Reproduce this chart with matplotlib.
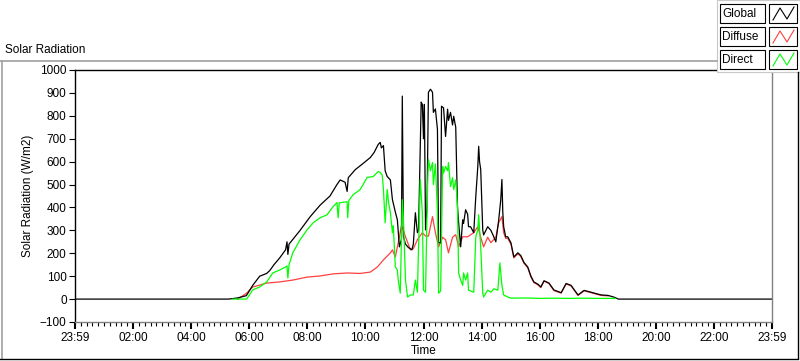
import numpy as np
import matplotlib.pyplot as plt
from matplotlib.lines import Line2D
from matplotlib.patches import Rectangle

plt.rcParams['font.family'] = ['Liberation Sans', 'DejaVu Sans']
plt.rcParams['font.size'] = 8

# time in hours since 23:59, radiation in W/m2
global_t = [0, 5.29, 5.6, 5.9, 6.12, 6.36, 6.6, 6.71, 6.85, 7.05, 7.25, 7.30, 7.33, 7.37,
            7.75, 8.1, 8.44, 8.78, 9.02, 9.13, 9.30, 9.37, 9.41, 9.65, 9.9, 10.17,
            10.3, 10.44, 10.51, 10.55, 10.62, 10.68, 10.75, 10.86, 10.93, 11.03,
            11.10, 11.17, 11.24, 11.27, 11.31, 11.38, 11.48, 11.60, 11.65, 11.72,
            11.79, 11.83, 11.92, 11.96, 12.00, 12.03, 12.07, 12.12, 12.17, 12.24,
            12.31, 12.34, 12.41, 12.48, 12.52, 12.59, 12.62, 12.69, 12.76, 12.83,
            12.86, 12.93, 13.00, 13.04, 13.11, 13.17, 13.21, 13.28, 13.35, 13.38,
            13.45, 13.52, 13.55, 13.62, 13.73, 13.80, 13.87, 13.90, 13.93, 13.97,
            14.04, 14.07, 14.21, 14.32, 14.42, 14.49, 14.59, 14.66, 14.70, 14.73,
            14.76, 14.83, 14.90, 15.01, 15.11, 15.25, 15.35, 15.46, 15.59, 15.70,
            15.80, 15.94, 16.04, 16.15, 16.32, 16.49, 16.74, 16.91, 17.08, 17.32,
            17.53, 17.77, 17.88, 18.12, 18.36, 18.57, 18.71, 24]
global_v = [0, 0, 5, 15, 60, 100, 112, 125, 150, 180, 215, 250, 195, 240,
            300, 360, 410, 450, 500, 520, 510, 470, 530, 565, 590, 618,
            640, 675, 684, 660, 670, 560, 535, 520, 434, 380,
            346, 228, 260, 886, 272, 240, 225, 215, 240, 377,
            290, 300, 860, 850, 700, 850, 302, 400, 903, 916,
            903, 815, 830, 741, 246, 246, 842, 835, 710, 829,
            780, 815, 760, 798, 750, 404, 333, 228, 346, 330,
            390, 370, 316, 316, 290, 447, 579, 667, 600, 566,
            302, 280, 316, 300, 272, 250, 346, 434, 522, 380,
            316, 272, 272, 246, 184, 202, 190, 160, 140, 100,
            75, 65, 53, 80, 70, 40, 28, 68, 60, 18,
            38, 30, 26, 18, 16, 8, 0, 0]

diffuse_t = [5.60, 5.91, 6.12, 6.36, 6.60, 7.05, 7.50, 7.99, 8.44, 8.89, 9.37, 9.82,
             10.17, 10.41, 10.62, 10.86, 10.93, 11.03, 11.13, 11.24, 11.31, 11.38,
             11.55, 11.65, 11.79, 11.96, 12.07, 12.17, 12.31, 12.41, 12.52, 12.66,
             12.76, 12.86, 13.00, 13.11, 13.21, 13.35, 13.52, 13.73, 13.87, 13.97,
             14.07, 14.21, 14.32, 14.49, 14.59, 14.70, 14.76, 14.83, 14.90, 15.01,
             15.11, 15.25, 15.35, 15.46, 15.59, 15.70, 15.80, 15.94, 16.04, 16.15,
             16.32, 16.49, 16.74, 16.91, 17.08, 17.32, 17.53, 17.77, 17.88, 18.12,
             18.36]
diffuse_v = [0, 26, 53, 61, 70, 75, 83, 96, 101, 110, 114, 112,
             118, 140, 171, 202, 215, 184, 246, 320, 300, 272,
             215, 220, 259, 290, 275, 275, 360, 290, 228, 270,
             259, 202, 270, 281, 228, 272, 272, 290, 316, 270,
             228, 270, 246, 270, 333, 360, 290, 265, 265, 240,
             180, 198, 186, 156, 137, 96, 72, 62, 50, 78,
             68, 37, 26, 66, 58, 16, 36, 28, 24, 16,
             14]

direct_t = [5.43, 5.91, 6.12, 6.36, 6.60, 6.81, 7.05, 7.25, 7.30, 7.33, 7.37, 7.50,
            7.75, 7.99, 8.20, 8.44, 8.68, 8.89, 9.02, 9.06, 9.10, 9.37, 9.39, 9.43,
            9.58, 9.82, 10.06, 10.27, 10.44, 10.51, 10.58, 10.62, 10.68, 10.75,
            10.80, 10.86, 10.93, 10.96, 11.03, 11.10, 11.13, 11.20, 11.27, 11.31,
            11.38, 11.45, 11.55, 11.65, 11.72, 11.79, 11.89, 11.96, 12.00, 12.07,
            12.14, 12.17, 12.24, 12.31, 12.34, 12.41, 12.48, 12.52, 12.59, 12.66,
            12.69, 12.76, 12.83, 12.86, 12.93, 13.00, 13.04, 13.11, 13.17, 13.21,
            13.28, 13.35, 13.38, 13.45, 13.52, 13.55, 13.73, 13.80, 13.87, 13.90,
            13.97, 14.04, 14.07, 14.21, 14.32, 14.42, 14.56, 14.63, 14.70, 14.76,
            14.90, 15.01, 15.5, 16.0, 16.5, 17.0, 17.5, 18.0, 18.6]
direct_v = [0, 0, 40, 53, 75, 114, 127, 140, 145, 92, 150, 202,
            259, 302, 333, 355, 368, 404, 421, 355, 420, 425, 355, 430,
            456, 478, 531, 535, 557, 553, 540, 480, 333, 478,
            420, 377, 290, 320, 140, 127, 83, 26, 434, 346,
            83, 9, 18, 18, 83, 30, 522, 377, 39, 30,
            491, 610, 560, 596, 500, 590, 377, 26, 35, 579,
            550, 579, 560, 596, 491, 530, 478, 520, 404, 114,
            83, 60, 114, 83, 114, 39, 30, 272, 302, 368,
            228, 26, 9, 39, 30, 45, 39, 158, 60, 18,
            9, 4, 5, 3, 4, 3, 4, 3, 3]

major_ticks = np.arange(0, 25, 2)
major_labels = ['23:59', '02:00', '04:00', '06:00', '08:00', '10:00', '12:00',
                '14:00', '16:00', '18:00', '20:00', '22:00', '23:59']
y_ticks = np.arange(-100, 1001, 100)

fig = plt.figure(figsize=(8, 3.61), dpi=100)
W, H = 800, 361

def fx(px):
    return px / W

def fy(py):
    return 1 - py / H

ax = fig.add_axes([fx(75), fy(322), fx(772) - fx(75), fy(70) - fy(322)])
ax.plot(diffuse_t, diffuse_v, color='#ff4040', lw=0.9)
ax.plot(global_t, global_v, color='black', lw=0.9)
ax.plot(direct_t, direct_v, color='#00ff00', lw=0.9)

ax.set_xlim(0, 24)
ax.set_ylim(-100, 1000)
ax.set_xticks(major_ticks)
ax.set_xticklabels(major_labels)
ax.set_xticks(np.arange(0, 24.01, 0.2), minor=True)
ax.set_yticks(y_ticks)
ax.tick_params(axis='x', which='major', length=5, width=1.5, pad=2, labelsize=8.5)
ax.tick_params(axis='x', which='minor', length=3, width=0.8)
ax.tick_params(axis='y', length=4, width=0.8, pad=2, labelsize=8.5)
ax.spines['left'].set_color('black')
ax.spines['top'].set_color('black')
ax.spines['right'].set_color('#808080')
ax.spines['bottom'].set_color('#808080')
for s in ax.spines.values():
    s.set_linewidth(1.0)
ax.set_xlabel('Time', fontsize=8.5, labelpad=1)
ax.set_ylabel('Solar Radiation (W/m2)', fontsize=8.5, labelpad=4)

# outer frame
fig.text(fx(5), fy(50), 'Solar Radiation', fontsize=8.5, va='center', ha='left')
fig.add_artist(Line2D([fx(0), fx(717)], [fy(61), fy(61)], color='#a0a0a0', lw=1.2))
fig.add_artist(Line2D([fx(1.5), fx(1.5)], [fy(61), fy(358)], color='#a0a0a0', lw=1.2))
fig.add_artist(Line2D([fx(0), fx(798)], [fy(358.5), fy(358.5)], color='black', lw=1.0))
fig.add_artist(Line2D([fx(797.5), fx(797.5)], [fy(72), fy(358)], color='black', lw=1.0))

# legend panel
fig.add_artist(Rectangle((fx(717), fy(72)), fx(800) - fx(717), fy(0) - fy(72),
                         facecolor='white', edgecolor='#c8c8c8', lw=0.8))
names = ['Global', 'Diffuse', 'Direct']
colors = ['black', '#ff4040', '#00ff00']
for i, (name, c) in enumerate(zip(names, colors)):
    top = 4 + i * 23
    fig.add_artist(Rectangle((fx(720), fy(top + 19)), fx(45), fy(0) - fy(19),
                             facecolor='white', edgecolor='black', lw=0.8))
    fig.text(fx(722), fy(top + 10), name, fontsize=8.5, va='center', ha='left')
    fig.add_artist(Rectangle((fx(769), fy(top + 19)), fx(28), fy(0) - fy(19),
                             facecolor='white', edgecolor='black', lw=0.8))
    zx = [773, 780, 787, 794]
    zy = [top + 16, top + 4, top + 15, top + 3]
    fig.add_artist(Line2D([fx(v) for v in zx], [fy(v) for v in zy], color=c, lw=0.8))

fig.savefig('out.png', dpi=100)
